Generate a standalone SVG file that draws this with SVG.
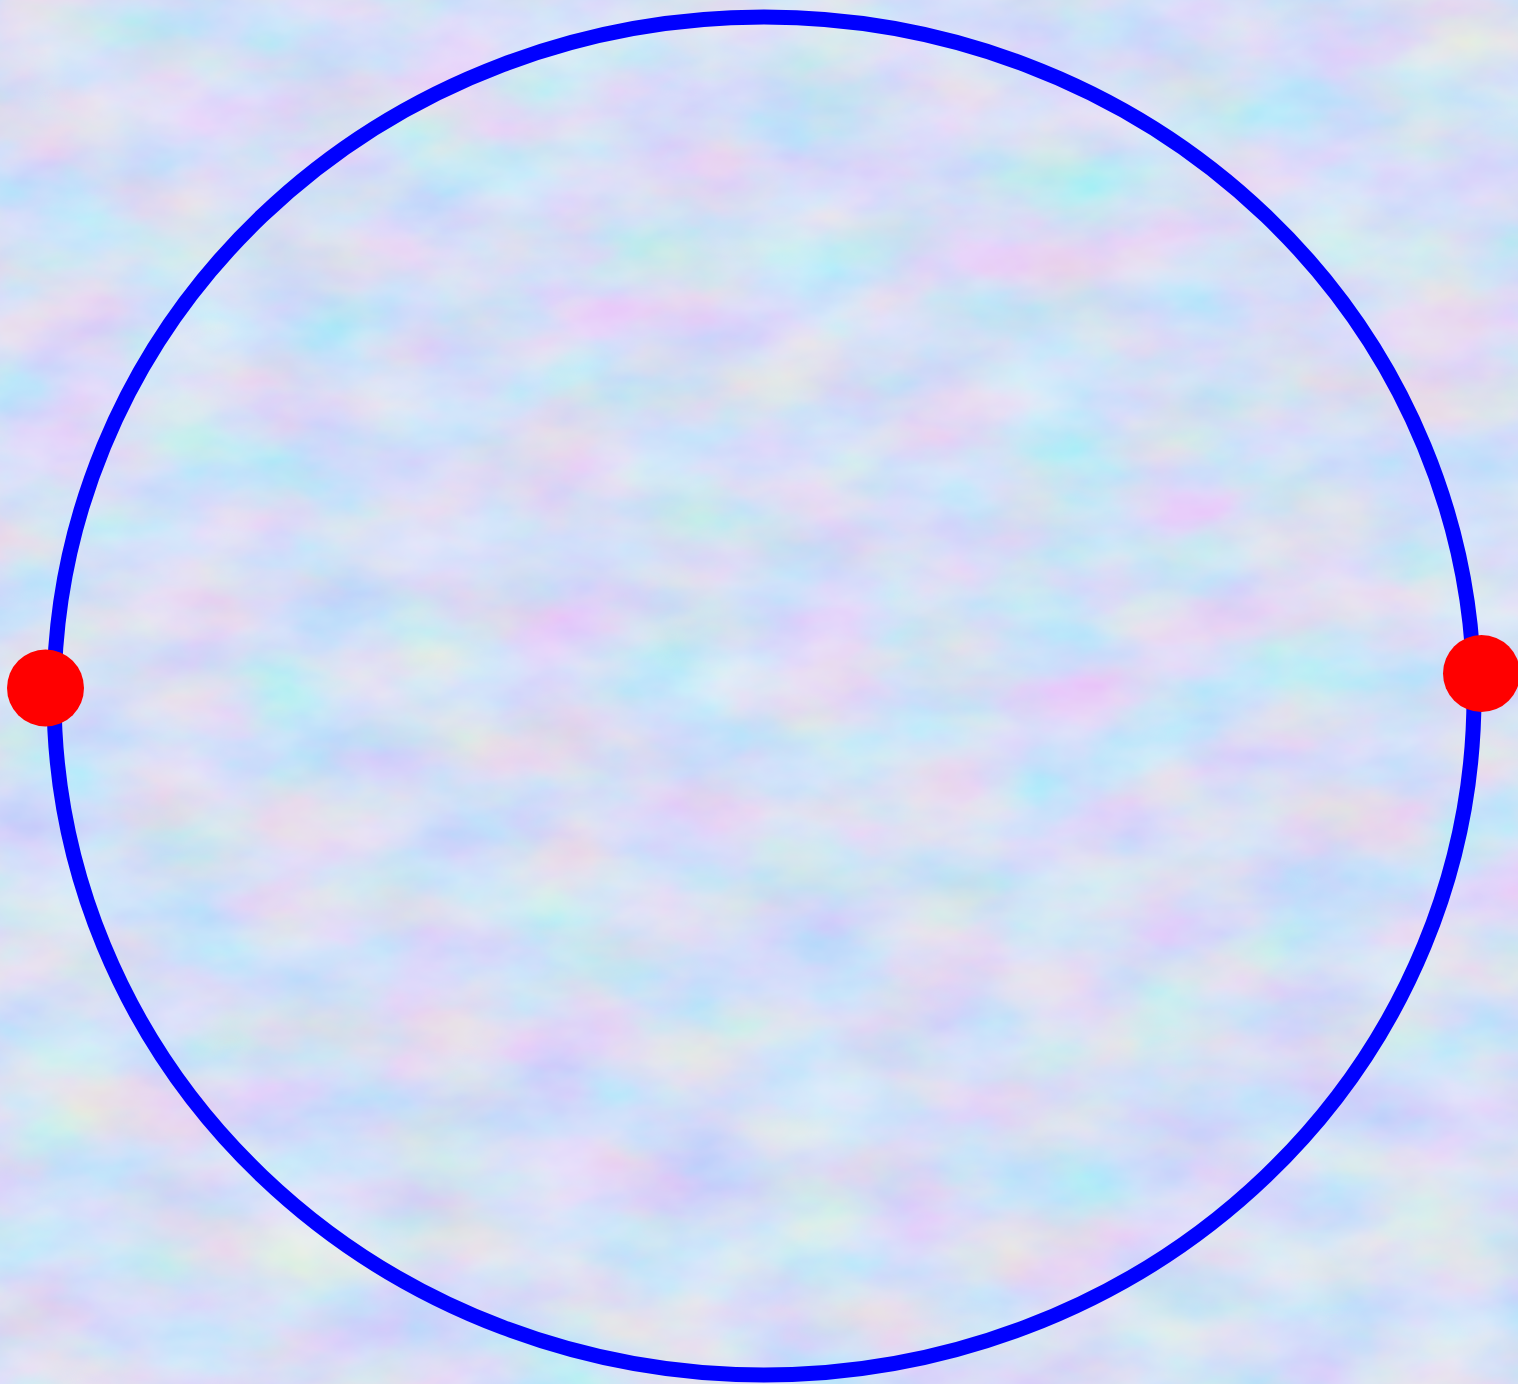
<svg xmlns="http://www.w3.org/2000/svg" width="1518" height="1384" viewBox="0 0 1518 1384">
  <defs>
    <filter id="tex" x="0" y="0" width="100%" height="100%">
      <feTurbulence type="fractalNoise" baseFrequency="0.008 0.014" numOctaves="4" seed="11" result="n"/>
      <feColorMatrix in="n" type="matrix" values="0.9 -0.3 0 0 0.45  0 0.6 -0.2 0 0.58  -0.2 0 0.5 0 0.78  0 0 0 0 1"/>
    </filter>
    <style>
      .ring { fill: none; stroke: #0000ff; stroke-width: 15; }
      .pt { fill: #ff0000; }
    </style>
  </defs>
  <rect width="1518" height="1384" fill="#c6d8f4"/>
  <rect width="1518" height="1384" filter="url(#tex)" opacity="0.6"/>
  <g id="ring">
    <ellipse class="ring" cx="764" cy="696" rx="710" ry="679"/>
  </g>
  <g id="pointA">
    <circle class="pt" cx="45.5" cy="688" r="38.5"/>
  </g>
  <g id="pointB">
    <circle class="pt" cx="1481.5" cy="673.5" r="38.5"/>
  </g>
</svg>
